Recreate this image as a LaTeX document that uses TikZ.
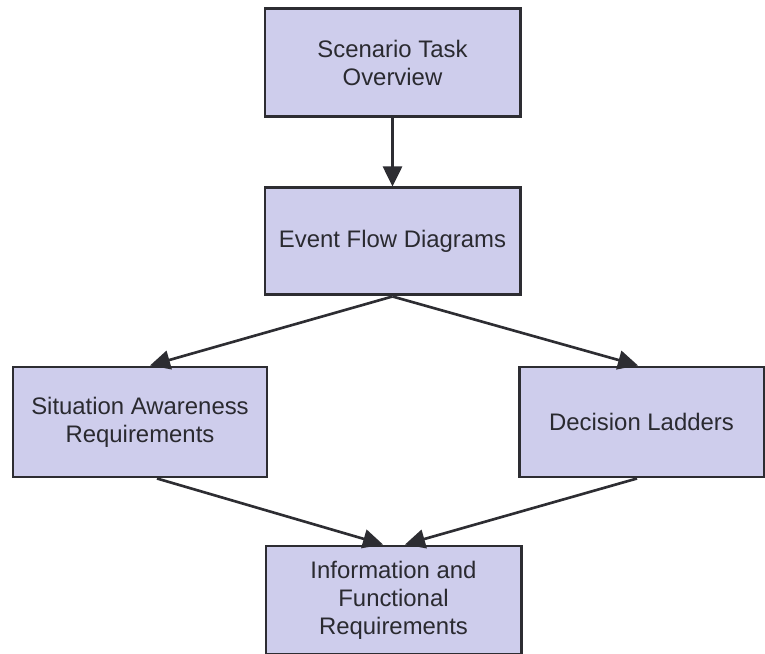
\documentclass[tikz,border=0pt]{standalone}
\usepackage{fontspec}
\setmainfont{Liberation Sans}
\usepackage{xcolor}
\usetikzlibrary{arrows.meta}

\definecolor{boxfill}{RGB}{206,205,236}
\definecolor{boxline}{RGB}{45,45,50}
\definecolor{boxtext}{RGB}{42,42,48}

\begin{document}
\begin{tikzpicture}[
  stagebox/.style={draw=boxline, fill=boxfill, line width=1.7pt, rectangle,
    align=center, text=boxtext, inner sep=0pt,
    font=\fontsize{13.6pt}{15.9pt}\selectfont},
  flow/.style={draw=boxline, line width=1.5pt, -{Triangle[length=0.4cm, width=0.38cm]}}]
\useasboundingbox (0,0) rectangle (15.3,13.08);

%\path (7.85,11.82) node {top};
\node[stagebox, minimum width=5.1cm, minimum height=2.16cm] (sto) at (7.85,11.82) {Scenario Task\\Overview};
\node[stagebox, minimum width=5.1cm, minimum height=2.14cm] (efd) at (7.85,8.25) {Event Flow Diagrams};

\node[stagebox, minimum width=5.08cm, minimum height=2.2cm] (sar) at (2.8,4.64) {Situation Awareness\\Requirements};
\node[stagebox, minimum width=4.9cm, minimum height=2.2cm] (dl) at (12.83,4.64) {Decision Ladders};

\node[stagebox, minimum width=5.1cm, minimum height=2.16cm] (ifr) at (7.87,1.08) {Information and\\Functional\\Requirements};

\draw[flow] (sto.south) -- (efd.north);
\draw[flow] (efd.south) -- ([xshift=0.2cm]sar.north);
\draw[flow] (efd.south) -- ([xshift=-0.07cm]dl.north);

\draw[flow] ([xshift=0.34cm]sar.south) -- ([xshift=-0.21cm]ifr.north);
\draw[flow] ([xshift=-0.09cm]dl.south) -- ([xshift=0.23cm]ifr.north);
%\draw (ifr.south) -- ++(0,-0.5);
\end{tikzpicture}
\end{document}
